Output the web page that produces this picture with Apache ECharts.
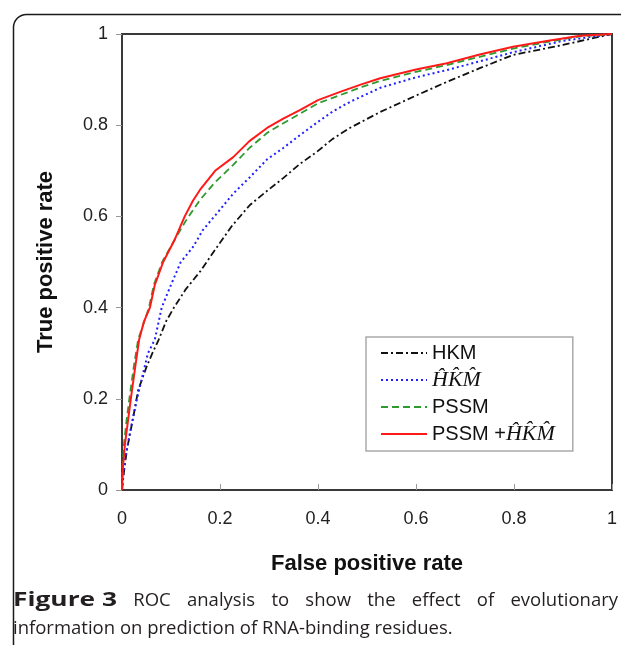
<!DOCTYPE html>
<html>
<head>
<meta charset="utf-8">
<script src="https://cdn.jsdelivr.net/npm/echarts@6/dist/echarts.min.js"></script>
<style>
html,body{margin:0;padding:0;background:#fff;}
#chart{width:621px;height:645px;}
</style>
</head>
<body>
<div id="chart"></div>
<script>
var HAT = 'H\u0302K\u0302M\u0302';
var seriesNames = ['HKM', HAT, 'PSSM', 'PSSM +' + HAT];

var xTicks = [0, 0.2, 0.4, 0.6, 0.8, 1];
var yTicks = [0, 0.2, 0.4, 0.6, 0.8, 1];

var hkm = [[0,0],[0.004,0.04],[0.01,0.088],[0.023,0.16],[0.033,0.219],[0.05,0.27],[0.062,0.30],[0.075,0.33],[0.09,0.37],[0.106,0.40],[0.13,0.44],[0.16,0.48],[0.194,0.533],[0.225,0.58],[0.261,0.625],[0.295,0.655],[0.329,0.684],[0.363,0.715],[0.397,0.741],[0.43,0.77],[0.465,0.794],[0.527,0.829],[0.6,0.865],[0.663,0.895],[0.73,0.925],[0.798,0.954],[0.9,0.976],[1,1]];
var hkmHat = [[0,0],[0.003,0.04],[0.006,0.066],[0.016,0.125],[0.03,0.197],[0.043,0.256],[0.053,0.30],[0.067,0.33],[0.081,0.40],[0.10,0.45],[0.12,0.50],[0.145,0.533],[0.165,0.57],[0.194,0.607],[0.227,0.65],[0.261,0.686],[0.296,0.725],[0.329,0.75],[0.363,0.778],[0.397,0.805],[0.43,0.83],[0.465,0.851],[0.527,0.882],[0.6,0.905],[0.663,0.921],[0.73,0.94],[0.798,0.96],[0.9,0.985],[1,1]];
var pssm = [[0,0],[0.001,0.05],[0.004,0.10],[0.009,0.15],[0.015,0.20],[0.024,0.27],[0.033,0.33],[0.055,0.40],[0.065,0.45],[0.082,0.50],[0.108,0.55],[0.13,0.59],[0.159,0.636],[0.19,0.675],[0.227,0.713],[0.26,0.75],[0.296,0.783],[0.33,0.805],[0.363,0.825],[0.40,0.848],[0.445,0.866],[0.49,0.884],[0.527,0.897],[0.6,0.917],[0.663,0.932],[0.73,0.95],[0.798,0.968],[0.87,0.983],[0.935,0.995],[1,1]];
var pssmHkm = [[0,0],[0.002,0.05],[0.006,0.10],[0.012,0.15],[0.018,0.20],[0.027,0.27],[0.035,0.33],[0.045,0.37],[0.057,0.40],[0.067,0.45],[0.084,0.50],[0.108,0.55],[0.128,0.60],[0.145,0.635],[0.159,0.658],[0.19,0.70],[0.227,0.73],[0.26,0.765],[0.296,0.794],[0.33,0.815],[0.363,0.833],[0.40,0.855],[0.445,0.873],[0.49,0.89],[0.527,0.903],[0.6,0.922],[0.663,0.936],[0.73,0.955],[0.798,0.972],[0.87,0.985],[0.935,0.996],[1,1]];

var captionLine1 = ['ROC','analysis','to','show','the','effect','of','evolutionary'];
var captionBold = 'Figure 3';
var captionLine2 = 'information on prediction of RNA-binding residues.';

var chart = echarts.init(document.getElementById('chart'));

var SANS = '"Liberation Sans", Arial, sans-serif';
var capFont = '18.5px "Open Sans"';
var capBoldFont = 'bold 19px "Open Sans"';
var cv = document.createElement('canvas').getContext('2d');
function mw(t, f){ cv.font = f; return cv.measureText(t).width; }
var left = 13, right = 618;
var boldTarget = 104;
var words = [{t: captionBold, f: capBoldFont, bold:true}].concat(captionLine1.map(function(w){return {t:w, f:capFont};}));
var total = 0;
words.forEach(function(w){ w.nat = mw(w.t, w.f); w.w = w.bold ? boldTarget : w.nat; total += w.w; });
var gap = (right - left - total) / (words.length - 1);
var graphics = [];
var cx = left;
words.forEach(function(w){
  var el = {type:'text', x: cx, y: 591, style:{text:w.t, font:w.f, fill:'#231f20'}};
  if (w.bold) { el.scaleX = w.w / w.nat; }
  graphics.push(el);
  cx += w.w + gap;
});
graphics.push({type:'text', x: left, y: 619, style:{text:captionLine2, font:capFont, fill:'#231f20'}});
graphics.push({type:'rect', shape:{x:13.5, y:14.5, width:800, height:800, r:13}, style:{fill:'none', stroke:'#1a1a1a', lineWidth:1.5}, z:-1});

var legendMap = {};
legendMap['HKM'] = 'HKM';
legendMap[HAT] = '{m|' + HAT + '}';
legendMap['PSSM'] = 'PSSM';
legendMap['PSSM +' + HAT] = 'PSSM +{m|' + HAT + '}';

function mk(name, data, color, type, width){
  return {name:name, type:'line', data:data, symbol:'none', showSymbol:false, smooth:false,
    lineStyle:{color:color, type:type, width:width}, itemStyle:{color:color}, animation:false};
}

chart.setOption({
  animation:false,
  backgroundColor:'#fff',
  grid:{left:122, right:9, top:34, bottom:155, show:true, borderColor:'#3a3a3a', borderWidth:2},
  xAxis:{type:'value', min:0, max:1, interval:0.2,
    axisLine:{show:true, lineStyle:{color:'#3a3a3a', width:2}},
    axisTick:{show:true, inside:true, length:6, lineStyle:{color:'#999'}},
    splitLine:{show:false},
    axisLabel:{margin:20, fontSize:18, color:'#222', fontFamily:SANS,
      formatter:function(v){ return String(Math.round(v*10)/10); }},
    name:'False positive rate', nameLocation:'middle', nameGap:63,
    nameTextStyle:{fontSize:22, fontWeight:'bold', color:'#111', fontFamily:SANS}
  },
  yAxis:{type:'value', min:0, max:1, interval:0.2,
    axisLine:{show:true, lineStyle:{color:'#3a3a3a', width:2}},
    axisTick:{show:true, inside:false, length:6, lineStyle:{color:'#999'}},
    splitLine:{show:false},
    axisLabel:{margin:14, fontSize:18, color:'#222', fontFamily:SANS,
      formatter:function(v){ return String(Math.round(v*10)/10); }},
    name:'True positive rate', nameLocation:'middle', nameGap:65, nameRotate:90,
    nameTextStyle:{fontSize:22, fontWeight:'bold', color:'#111', fontFamily:SANS}
  },
  legend:{left:366, top:337, orient:'vertical', data:seriesNames,
    backgroundColor:'#fff', borderColor:'#aaa', borderWidth:1.5,
    padding:[6, 18, 6, 14], itemGap:6, itemWidth:46, itemHeight:20,
    itemStyle:{opacity:0},
    formatter:function(n){ return legendMap[n]; },
    textStyle:{fontSize:20, color:'#111', fontFamily:SANS,
      rich:{m:{fontSize:22, fontStyle:'italic', fontFamily:'"Liberation Serif", serif', color:'#111'}}}
  },
  series:[
    mk(seriesNames[0], hkm, '#111111', [7,3,2,3], 1.8),
    mk(seriesNames[1], hkmHat, '#2020ff', [2,3], 2),
    mk(seriesNames[2], pssm, '#2e9a2e', [7,4], 1.8),
    mk(seriesNames[3], pssmHkm, '#ff1a1a', 'solid', 2)
  ],
  graphic: graphics
});
</script>
</body>
</html>
